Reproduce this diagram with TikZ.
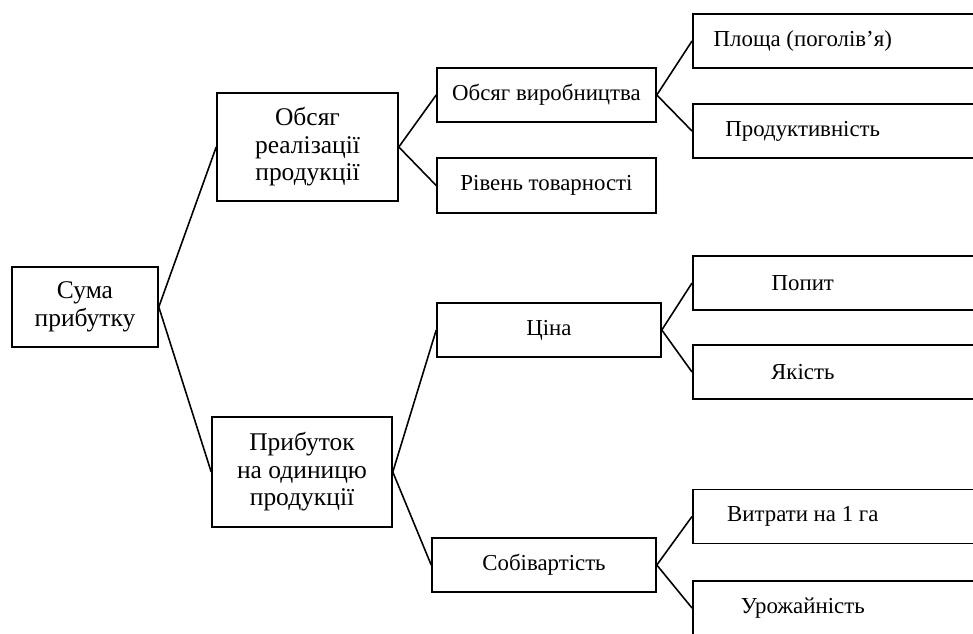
\documentclass[tikz,border=0pt]{standalone}
\usepackage{fontspec}
\setmainfont{Liberation Serif}
\newcommand{\leaftext}[1]{\makebox[44mm]{#1}\hspace*{16mm}}
\begin{document}
\fontsize{13}{15.5}\selectfont
\begin{tikzpicture}[x=0.2mm,y=-0.2mm,line width=0.9pt,
  box/.style={draw,align=center,inner sep=0pt},
  bigbox/.style={box,font=\fontsize{14.5}{15.6}\selectfont},
  leaf/.style={draw,anchor=west,inner xsep=0pt,minimum height=10.8mm}]
\useasboundingbox (0,0) rectangle (973,633);
\clip (0,0) rectangle (973,633);           % right column runs off the page
\node[bigbox,minimum width=29.2mm,minimum height=16mm] (suma) at (85,307) {Сума\\прибутку};
\node[bigbox,minimum width=36.2mm,minimum height=21.6mm] (obsyag) at (307.5,147) {Обсяг\\реалізації\\продукції};
\node[bigbox,minimum width=36mm,minimum height=22mm] (odynytsia) at (302,472) {Прибуток\\на одиницю\\продукції};
\node[box,minimum width=43.8mm,minimum height=10.8mm] (vyrob) at (546.5,95) {Обсяг виробництва};
\node[box,minimum width=43.8mm,minimum height=11mm] (tovar) at (546.5,185.5) {Рівень товарності};
\node[box,minimum width=44.8mm,minimum height=10.8mm] (tsina) at (549,330) {Ціна};
\node[box,minimum width=44.8mm,minimum height=10.8mm] (sobiv) at (544,565) {Собівартість};
\node[leaf] (plosha) at (692,41) {\leaftext{Площа (поголів’я)}};
\node[leaf] (produkt) at (692,131) {\leaftext{Продуктивність}};
\node[leaf] (popyt) at (692,283) {\leaftext{Попит}};
\node[leaf] (yakist) at (692,372) {\leaftext{Якість}};
\node[leaf] (vytraty) at (692,516.5) {\leaftext{Витрати на 1 га}};
\node[leaf] (urozh) at (692,608) {\leaftext{Урожайність}};
\draw (suma.east) -- (obsyag.west);
\draw (suma.east) -- (odynytsia.west);
\draw (obsyag.east) -- (vyrob.west);
\draw (obsyag.east) -- (tovar.west);
\draw (odynytsia.east) -- (tsina.west);
\draw (odynytsia.east) -- (sobiv.west);
\draw (vyrob.east) -- (plosha.west);
\draw (vyrob.east) -- (produkt.west);
\draw (tsina.east) -- (popyt.west);
\draw (tsina.east) -- (yakist.west);
\draw (sobiv.east) -- (vytraty.west);
\draw (sobiv.east) -- (urozh.west);
\end{tikzpicture}
\end{document}
